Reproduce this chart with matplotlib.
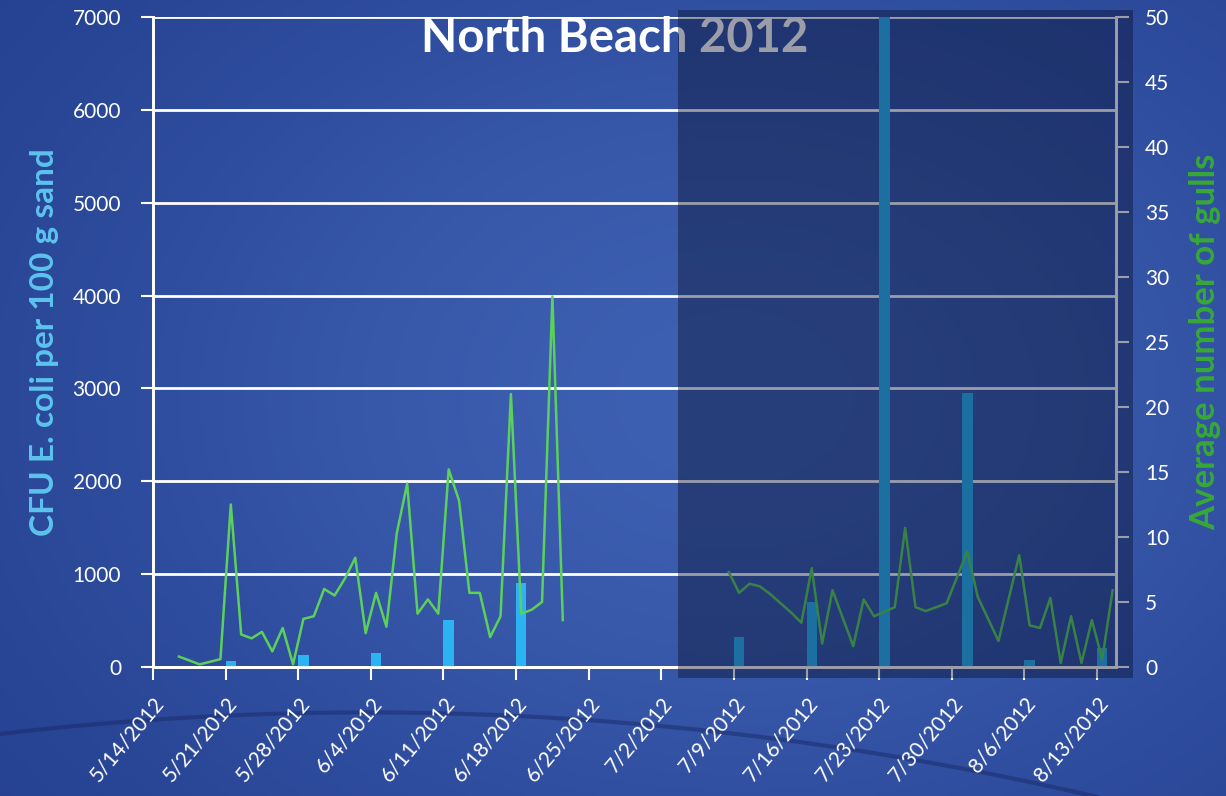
import numpy as np
import pandas as pd
import matplotlib
matplotlib.use('Agg')
import matplotlib.pyplot as plt
from matplotlib.patches import Rectangle

# E. coli in sand (CFU per 100 g), weekly samples
ecoli_dates = ['2012-05-21', '2012-05-28', '2012-06-04', '2012-06-11', '2012-06-18',
               '2012-07-09', '2012-07-16', '2012-07-23', '2012-07-31', '2012-08-06',
               '2012-08-13']
ecoli_cfu = [60, 130, 150, 510, 900, 320, 700, 7000, 2950, 80, 200]

# average number of gulls, first survey period
gull_dates_1 = ['2012-05-16', '2012-05-18', '2012-05-20', '2012-05-21', '2012-05-22',
                '2012-05-23', '2012-05-24', '2012-05-25', '2012-05-26', '2012-05-27',
                '2012-05-28', '2012-05-29', '2012-05-30', '2012-05-31', '2012-06-01',
                '2012-06-02', '2012-06-03', '2012-06-04', '2012-06-05', '2012-06-06',
                '2012-06-07', '2012-06-08', '2012-06-09', '2012-06-10', '2012-06-11',
                '2012-06-12', '2012-06-13', '2012-06-14', '2012-06-15', '2012-06-16',
                '2012-06-17', '2012-06-18', '2012-06-19', '2012-06-20', '2012-06-21',
                '2012-06-22']
gull_counts_1 = [0.8, 0.2, 0.6, 12.5, 2.5, 2.2, 2.7, 1.2, 3.0, 0.2,
                 3.7, 3.9, 6.0, 5.5, 6.8, 8.4, 2.6, 5.7, 3.1, 10.3,
                 14.1, 4.1, 5.2, 4.1, 15.2, 12.8, 5.7, 5.7, 2.3, 3.9,
                 21.0, 4.1, 4.4, 5.0, 28.5, 3.6]

# second survey period
gull_dates_2 = ['2012-07-08', '2012-07-09', '2012-07-10', '2012-07-11', '2012-07-12',
                '2012-07-13', '2012-07-14', '2012-07-15', '2012-07-16', '2012-07-17',
                '2012-07-18', '2012-07-20', '2012-07-21', '2012-07-22', '2012-07-24',
                '2012-07-25', '2012-07-26', '2012-07-27', '2012-07-29', '2012-07-31',
                '2012-08-01', '2012-08-03', '2012-08-05', '2012-08-06', '2012-08-07',
                '2012-08-08', '2012-08-09', '2012-08-10', '2012-08-11', '2012-08-12',
                '2012-08-13', '2012-08-14']
gull_counts_2 = [7.3, 5.7, 6.4, 6.2, 5.6, 4.9, 4.2, 3.4, 7.6, 1.8,
                 5.9, 1.6, 5.2, 3.9, 4.6, 10.7, 4.6, 4.3, 4.9, 8.9,
                 5.4, 2.0, 8.6, 3.2, 3.0, 5.3, 0.3, 3.9, 0.3, 3.6,
                 0.6, 5.9]

tick_dates = pd.date_range('2012-05-14', '2012-08-13', freq='7D')
tick_labels = [f'{d.month}/{d.day}/{d.year}' for d in tick_dates]

plt.rcParams['font.family'] = ['Lato', 'DejaVu Sans']

fig = plt.figure(figsize=(12.26, 7.96), dpi=100)

# slide-like blue background
bg = fig.add_axes([0, 0, 1, 1], zorder=-10)
yy, xx = np.mgrid[0:1:200j, 0:1:300j]
glow = np.exp(-((xx - 0.6) ** 2 / 0.35 + (yy - 0.5) ** 2 / 0.45))
dark = np.array([32, 58, 138]) / 255
light = np.array([62, 96, 178]) / 255
img = dark + glow[..., None] * (light - dark)
bg.imshow(img, extent=[0, 1, 0, 1], aspect='auto', origin='upper')
arc_x = np.linspace(0, 1, 200)
bg.plot(arc_x, 0.105 - 0.3 * (arc_x - 0.3) ** 2, color='#1b2d6e', lw=3, alpha=0.55)
bg.set_xlim(0, 1)
bg.set_ylim(0, 1)
bg.axis('off')

ax = fig.add_axes([0.1248, 0.1621, 0.7855, 0.8165])
ax.patch.set_alpha(0)

half_day = pd.Timedelta(hours=12)
ax.bar(pd.to_datetime(ecoli_dates) + half_day, ecoli_cfu, width=1.0,
       color='#2cb3f2', zorder=3)
ax.set_ylim(0, 7000)
ax.set_yticks(range(0, 7001, 1000))
ax.yaxis.grid(True, color='white', lw=2)
ax.set_axisbelow(True)

start = pd.Timestamp('2012-05-14')
ax.set_xlim(start, start + pd.Timedelta(days=92.83))
ax.set_xticks(tick_dates)
ax.set_xticklabels(tick_labels, rotation=50, ha='right', rotation_mode='anchor')

ax2 = ax.twinx()
ax2.plot(pd.to_datetime(gull_dates_1) + half_day, gull_counts_1, color='#5cd05a', lw=1.8)
ax2.plot(pd.to_datetime(gull_dates_2) + half_day, gull_counts_2, color='#5cd05a', lw=1.8)
ax2.set_ylim(0, 50)
ax2.set_yticks(range(0, 51, 5))

for a in (ax, ax2):
    a.spines['top'].set_visible(False)
    for s in ('left', 'right', 'bottom'):
        a.spines[s].set_color('white')
        a.spines[s].set_linewidth(2)

ax.tick_params(axis='y', direction='out', length=9, width=1.5, color='white',
               labelcolor='white', labelsize=15, pad=14)
ax.tick_params(axis='x', direction='out', length=9, width=1.5, color='white',
               labelcolor='white', labelsize=15, pad=10)
ax2.tick_params(axis='y', direction='out', length=9, width=1.5, color='white',
                labelcolor='white', labelsize=15, pad=12)

ax.set_ylabel('CFU E. coli per 100 g sand', color='#5cc3ee', fontsize=24,
              fontweight='bold', labelpad=10)
ax2.set_ylabel('Average number of gulls', color='#38a838', fontsize=25,
               fontweight='bold', labelpad=14)

fig.text(0.5016, 0.952, 'North Beach 2012', ha='center', va='center',
         fontsize=34, fontweight='bold', color='white', zorder=5)

# dark translucent panel over the July/August part of the chart
fig.add_artist(Rectangle((0.553, 0.148), 0.371, 0.839, transform=fig.transFigure,
                         facecolor=(0.02, 0.05, 0.16), alpha=0.4, lw=0, zorder=20))

fig.savefig('out.png', dpi=100)
